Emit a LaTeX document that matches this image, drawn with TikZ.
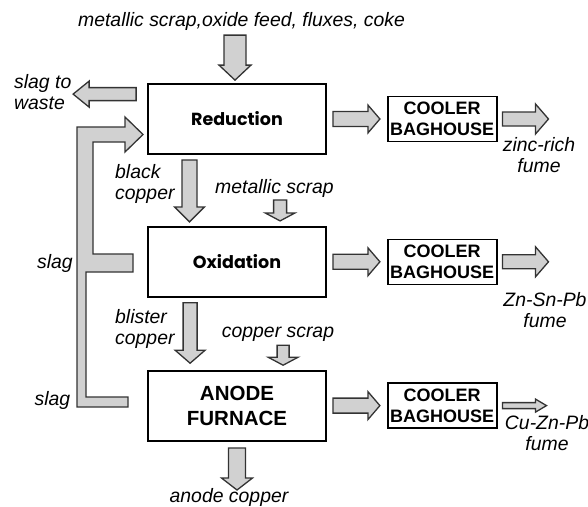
\documentclass[tikz,border=0pt]{standalone}
\usepackage{fontspec}
\setmainfont{Liberation Sans}
\newfontfamily\roundfont{Poppins}
\usepackage{tikz}
\usetikzlibrary{positioning, calc}

\begin{document}
\begin{tikzpicture}[x=1pt, y=-1pt, stage/.style={rectangle, draw=black, line width=1.8pt, minimum width=178pt, minimum height=70pt, align=center, font=\roundfont\bfseries\fontsize{17.5}{20}\selectfont}, cooler/.style={rectangle, draw=black, line width=1.6pt, minimum width=109pt, minimum height=45pt, inner sep=1pt, align=center, font=\bfseries\fontsize{18}{20.5}\selectfont}, txt/.style={inner sep=0pt, font=\itshape\fontsize{19.4}{21.5}\selectfont}, fatarrow/.style={draw=black!80, fill=black!18, line width=1.3pt, line join=miter}, fat/.style n args={3}{to path={($(\tikztostart)!#1pt!90:(\tikztotarget)$) -- ($($(\tikztotarget)!#3pt!(\tikztostart)$)!#1pt!90:(\tikztotarget)$) -- ($($(\tikztotarget)!#3pt!(\tikztostart)$)!#2pt!90:(\tikztotarget)$) -- (\tikztotarget) -- ($($(\tikztotarget)!#3pt!(\tikztostart)$)!#2pt!-90:(\tikztotarget)$) -- ($($(\tikztotarget)!#3pt!(\tikztostart)$)!#1pt!-90:(\tikztotarget)$) -- ($(\tikztostart)!#1pt!-90:(\tikztotarget)$) -- cycle}}]
    \useasboundingbox (0,0) rectangle (588,506);

    %Nodes
    \node[stage](red) at (237,119){Reduction};
    \node[stage](oxi)[below=71pt of red]{Oxidation};
    \node[stage, font=\bfseries\fontsize{20.5}{25}\selectfont](anode)[below=72pt of oxi]{ANODE\\FURNACE};
    \node[cooler](cool1)[right=60pt of red]{COOLER\\BAGHOUSE};
    \node[cooler](cool2)[right=60pt of oxi]{COOLER\\BAGHOUSE};
    \node[cooler](cool3)[right=60pt of anode]{COOLER\\BAGHOUSE};

    \node[txt, anchor=base](feed) at (241.5,26){metallic scrap,oxide feed, fluxes, coke};
    \node[txt, align=left, anchor=west](waste) at (14,92){slag to\\waste};
    \node[txt, align=left, anchor=west](black) at (115,184){black\\copper};
    \node[txt, anchor=base](scrapa) at (274.5,193){metallic scrap};
    \node[txt, anchor=base](slaga) at (55,268){slag};
    \node[txt, align=left, anchor=west](blister) at (115,329){blister\\copper};
    \node[txt, anchor=base](scrapb) at (278,337){copper scrap};
    \node[txt, anchor=base](slagb) at (52.5,405){slag};
    \node[txt, anchor=base](anodecu) at (229,502){anode copper};
    \node[txt, align=center](fumea) at (539,155){zinc-rich\\fume};
    \node[txt, align=center](fumeb) at (545,310){Zn-Sn-Pb\\fume};
    \node[txt, align=center](fumec) at (547,433){Cu-Zn-Pb\\fume};

    %Lines
    \draw[fatarrow] ([shift={(-2pt,48pt)}]red.north) to[fat={11}{16}{15}] ([shift={(-2pt,3pt)}]red.north);
    \draw[fatarrow] ([shift={(-11pt,-11pt)}]red.north west) to[fat={6.5}{13}{16}] ([shift={(-74pt,-11pt)}]red.north west);
    \draw[fatarrow] ([shift={(42.4pt,-5pt)}]red.south west) to[fat={7.5}{15}{15}] ([shift={(42.4pt,4pt)}]oxi.north west);
    \draw[fatarrow] ([shift={(133pt,26pt)}]oxi.north west) to[fat={6.5}{15}{8}] ([shift={(133pt,5pt)}]oxi.north west);
    \draw[fatarrow] ([shift={(43pt,-5pt)}]oxi.south west) to[fat={7}{15}{13}] ([shift={(43pt,6.5pt)}]anode.north west);
    \draw[fatarrow] ([shift={(136pt,24.5pt)}]anode.north west) to[fat={6}{15}{8}] ([shift={(136pt,4.5pt)}]anode.north west);
    \draw[fatarrow] ([yshift=-6.5pt]anode.south) to[fat={8.5}{15.5}{12}] ([yshift=-48.5pt]anode.south);
    \draw[fatarrow] ([xshift=6pt]red.east) to[fat={7.5}{14}{12}] ([xshift=-7pt]cool1.west);
    \draw[fatarrow] ([xshift=6pt]oxi.east) to[fat={7.5}{14}{12}] ([xshift=-7pt]cool2.west);
    \draw[fatarrow] ([xshift=6pt]anode.east) to[fat={7.5}{14}{12}] ([xshift=-7pt]cool3.west);
    \draw[fatarrow] ([xshift=5pt]cool1.east) to[fat={7}{15}{13}] ([xshift=51pt]cool1.east);
    \draw[fatarrow] ([xshift=5pt]cool2.east) to[fat={7}{15}{13}] ([xshift=51pt]cool2.east);
    \draw[fatarrow] ([xshift=5pt]cool3.east) to[fat={3}{6.5}{11}] ([xshift=49pt]cool3.east);

    % slag return to reduction
    \draw[fatarrow] (77,127) -- (125,127) -- (125,117) -- (143,134.5) -- (125,152) -- (125,142) -- (93,142) -- (93,254) -- (133,254) -- (133,272) -- (86,272) -- (86,397) -- (128,397) -- (128,407) -- (77,407) -- cycle;

\end{tikzpicture}
\end{document}
